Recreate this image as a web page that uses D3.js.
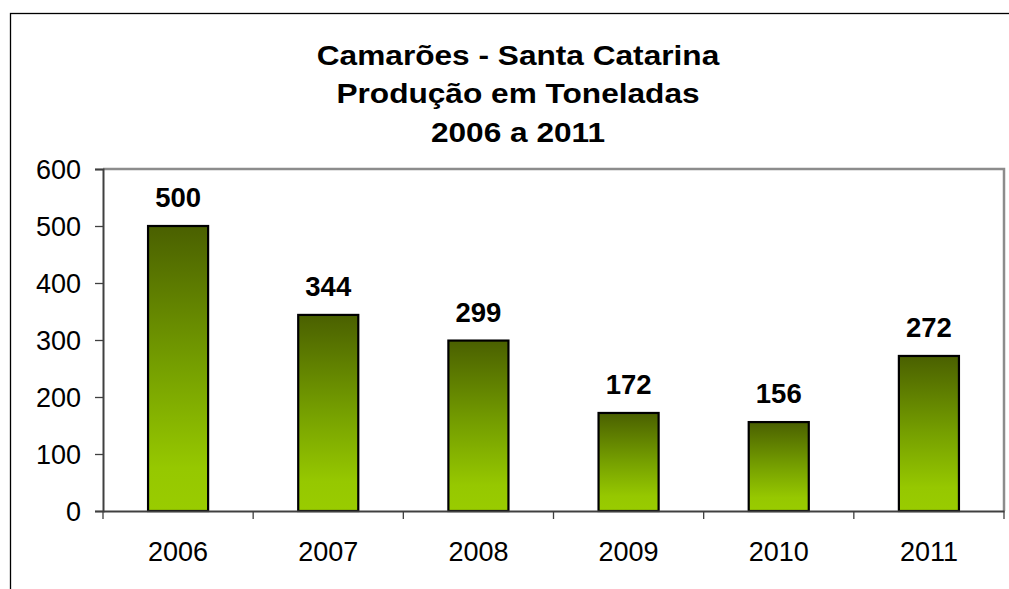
<!DOCTYPE html>
<html>
<head>
<meta charset="utf-8">
<script src="https://cdn.jsdelivr.net/npm/d3@7"></script>
<style>
body{margin:0;background:#fff;}
svg{display:block;font-family:"Liberation Sans",Arial,sans-serif;}
</style>
</head>
<body>
<svg id="chart" width="1009" height="589"></svg>
<script>
// dados
var anos=["2006","2007","2008","2009","2010","2011"];
var producao=[500,344,299,172,156,272];
var yTicks=[0,100,200,300,400,500,600];
var titulo=["Camarões - Santa Catarina","Produção em Toneladas","2006 a 2011"];

var svg=d3.select("#chart");
var L=103,R=1004,T=169,B=511;

// moldura externa (cortada pela janela)
svg.append("rect").attr("x",10.5).attr("y",13.5).attr("width",1040).attr("height",620)
	.attr("fill","#fff").attr("stroke","#000").attr("stroke-width",1.3);

var grad=svg.append("defs").append("linearGradient").attr("id","verde")
	.attr("x1",0).attr("y1",0).attr("x2",0).attr("y2",1);
[[0,"#4a6000"],[0.5,"#76a000"],[0.85,"#96c800"],[1,"#99cc00"]].forEach(function(s){
	grad.append("stop").attr("offset",s[0]).attr("stop-color",s[1]);
});

var x=d3.scaleBand().domain(anos).range([L,R]).paddingInner(0.6).paddingOuter(0.3);
var xb=d3.scaleBand().domain(anos).range([L,R]);
var y=d3.scaleLinear().domain([0,600]).range([B,T]);

// borda da área de plotagem
svg.append("path").attr("d","M"+L+","+T+"H"+R+"V"+B)
	.attr("fill","none").attr("stroke","#8c8c8c").attr("stroke-width",2.5);

// barras
svg.selectAll(".barra").data(producao).enter().append("rect").attr("class","barra")
	.attr("x",function(d,i){return x(anos[i]);})
	.attr("y",function(d){return y(d);})
	.attr("width",x.bandwidth())
	.attr("height",function(d){return B-y(d);})
	.attr("fill","url(#verde)").attr("stroke","#000").attr("stroke-width",2.2);

// eixo y
var ya=svg.append("g").attr("transform","translate("+L+",0)")
	.call(d3.axisLeft(y).tickValues(yTicks).tickSize(8).tickPadding(14));
ya.select(".domain").attr("stroke","#404040").attr("stroke-width",2);
ya.selectAll(".tick line").attr("stroke","#404040").attr("stroke-width",1.3);
ya.selectAll("text").attr("font-size",27).attr("fill","#000").attr("dy","0.36em")
	.attr("font-family","Liberation Sans,Arial,sans-serif");

// eixo x
var xa=svg.append("g").attr("transform","translate(0,"+B+")")
	.call(d3.axisBottom(xb).tickSize(0).tickPadding(0));
xa.select(".domain").attr("stroke","#404040").attr("stroke-width",2);
xa.selectAll("text").attr("font-size",27).attr("fill","#000").attr("y",50).attr("dy",0)
	.attr("font-family","Liberation Sans,Arial,sans-serif");
svg.selectAll(".xtick").data(anos.concat(["fim"])).enter().append("line").attr("class","xtick")
	.attr("x1",function(d,i){return i<anos.length?xb(d):R;})
	.attr("x2",function(d,i){return i<anos.length?xb(d):R;})
	.attr("y1",B).attr("y2",B+8).attr("stroke","#404040").attr("stroke-width",1.3);

// rótulos
svg.selectAll(".rotulo").data(producao).enter().append("text").attr("class","rotulo")
	.attr("x",function(d,i){return x(anos[i])+x.bandwidth()/2;})
	.attr("y",function(d){return y(d)-19;})
	.attr("text-anchor","middle").attr("font-size",27.5).attr("font-weight","bold")
	.text(function(d){return d;});

// título (levemente esticado na horizontal, como no original)
var gt=svg.append("g").attr("transform","translate(518,0) scale(1.13,1)");
gt.selectAll(".titulo").data(titulo).enter().append("text").attr("class","titulo")
	.attr("x",0).attr("y",function(d,i){return 65+i*38.5;})
	.attr("text-anchor","middle").attr("font-size",28).attr("font-weight","bold")
	.text(function(d){return d;});
</script>
</body>
</html>
